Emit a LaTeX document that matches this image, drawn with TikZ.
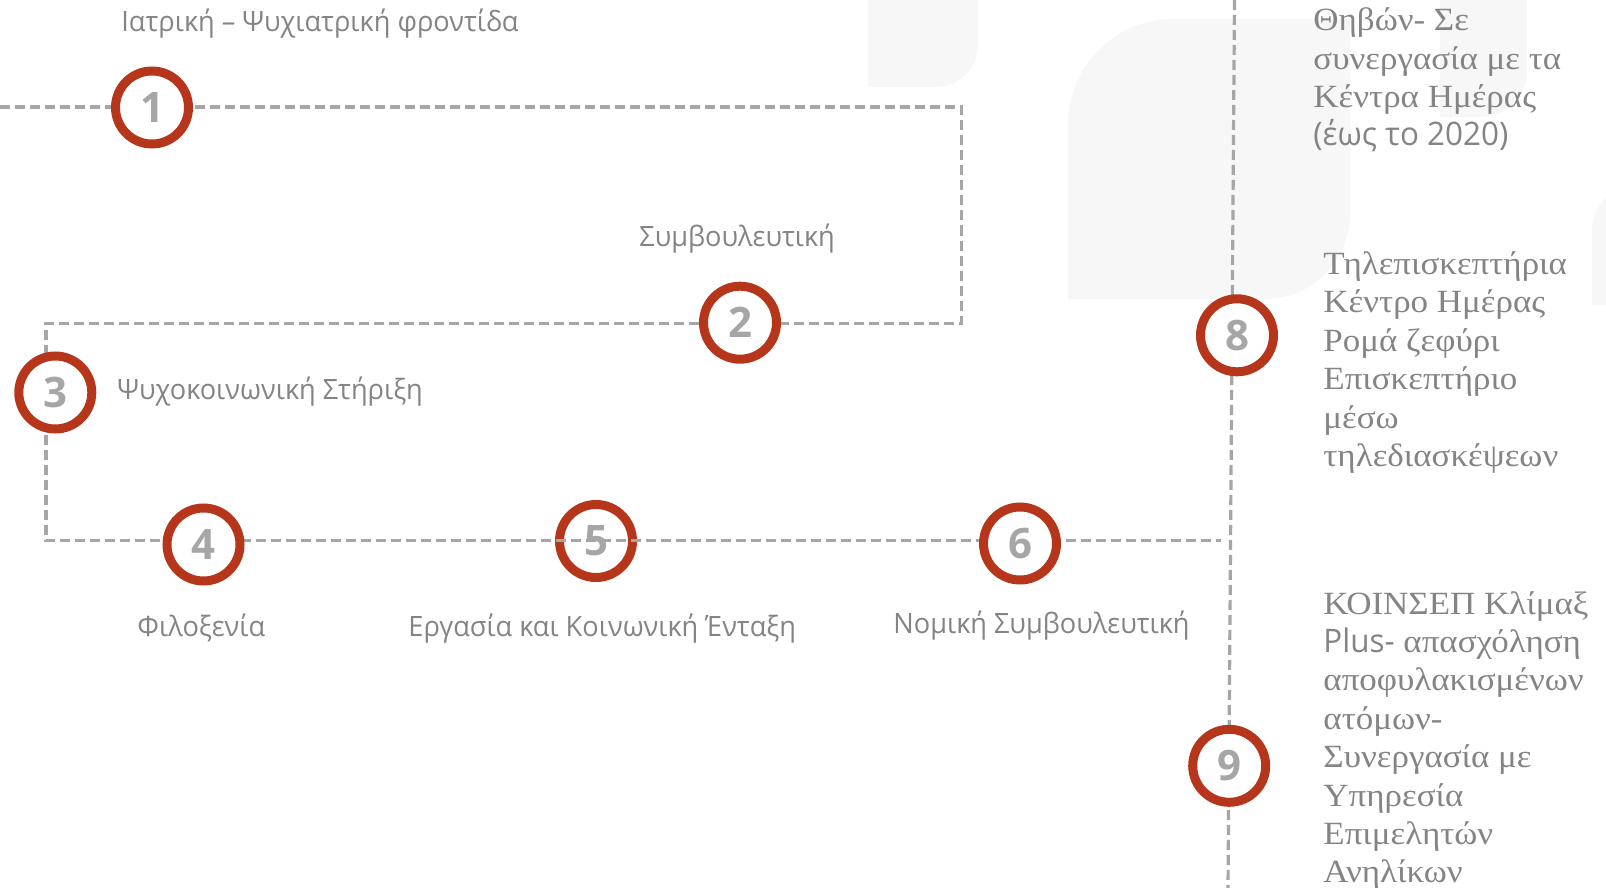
\documentclass[tikz,border=0pt]{standalone}
\usepackage{fontspec}
\setmainfont{Liberation Serif}[FakeStretch=1.08]
\newfontfamily\labelfont{Open Sans}[FakeStretch=0.97]
\newfontfamily\digitfont{Open Sans}
\definecolor{ringred}{HTML}{B5361A}
\definecolor{linegray}{HTML}{A6A6A6}
\definecolor{textgray}{HTML}{848484}
\definecolor{shapegray}{HTML}{F7F7F7}

\tikzset{
  ring/.style={circle, draw=ringred, line width=4.5pt, fill=white,
    minimum size=36.5pt, inner sep=0pt, text=linegray,
    font=\digitfont\bfseries\fontsize{21}{21}\selectfont},
  link/.style={draw=linegray, line width=1.6pt, dash pattern=on 5pt off 2.5pt},
  lbl/.style={anchor=base west, inner sep=0pt, text=textgray,
    font=\labelfont\fontsize{14}{17}\selectfont},
  note/.style={anchor=base west, inner sep=0pt, align=left, text=textgray,
    font=\fontsize{16.2}{19.2}\selectfont},
  bgshape/.style={fill=shapegray}
}

\begin{document}
\begin{tikzpicture}[x=0.5pt, y=-0.5pt]
  \useasboundingbox (0,0) rectangle (1606,888);

  % faint marks behind
  \fill[bgshape] (868,0) -- (978,0) -- (978,45) arc[start angle=0, end angle=90, radius=42] -- (868,87) -- cycle;
  \fill[bgshape] (1068,299) -- (1068,124) arc[start angle=180, end angle=270, radius=105]
    -- (1350,19) -- (1350,214) arc[start angle=0, end angle=90, radius=85] -- cycle;
  \fill[bgshape] (1440,0) -- (1527,0) -- (1527,72) arc[start angle=0, end angle=90, radius=45] -- (1440,117) -- cycle;
  \fill[bgshape] (1592,305) -- (1592,232) arc[start angle=180, end angle=270, radius=50] -- (1660,182) -- (1660,305) -- cycle;

  % path points
  \coordinate (start) at (0,107);
  \coordinate (bend1) at (961.5,107);
  \coordinate (bend2) at (961.5,323.3);
  \coordinate (bend3) at (46,323.3);
  \coordinate (bend4) at (46,540.5);
  \coordinate (stop) at (1221,540.5);
  \coordinate (vtop) at (1234.5,0);
  \coordinate (vbot) at (1228,888);

  % step 5 sits under the line
  \node[ring, fill=none] (c5) at (596,541) {5};

  \draw[link] (start) -- (bend1) -- (bend2) -- (bend3) -- (bend4) -- (stop);
  \draw[link] (vtop) -- (vbot);

  % steps
  \node[ring] (c1) at (152,107.5) {1};
  \node[ring] (c2) at (740,322.7) {2};
  \node[ring] (c3) at (55.3,392.5) {3};
  \node[ring] (c4) at (203.5,544.5) {4};
  \node[ring] (c6) at (1020,543.5) {6};
  \node[ring] (c8) at (1237,335.3) {8};
  \node[ring] (c9) at (1229.2,765.8) {9};

  % labels
  \node[lbl] (l1) at (121,32) {Ιατρική – Ψυχιατρική φροντίδα};
  \node[lbl] (l2) at (639,246.7) {Συμβουλευτική};
  \node[lbl] (l3) at (117,399.3) {Ψυχοκοινωνική Στήριξη};
  \node[lbl] (l4) at (137,636) {Φιλοξενία};
  \node[lbl] (l5) at (408,636) {Εργασία και Κοινωνική Ένταξη};
  \node[lbl] (l6) at (893,633) {Νομική Συμβουλευτική};

  % right column (anchored at the last line)
  \node[note] (n7) at (1313,145.9) {Θηβών- Σε\\συνεργασία με τα\\Κέντρα Ημέρας\\{\labelfont(έως το 2020)}};
  \node[note] (n8) at (1323,466.5) {Τηλεπισκεπτήρια\\Κέντρο Ημέρας\\Ρομά ζεφύρι\\Επισκεπτήριο\\μέσω\\τηλεδιασκέψεων};
  \node[note] (n9) at (1323,882.8) {ΚΟΙΝΣΕΠ Κλίμαξ\\{\labelfont Plus-} απασχόληση\\αποφυλακισμένων\\ατόμων-\\Συνεργασία με\\Υπηρεσία\\Επιμελητών\\Ανηλίκων};
\end{tikzpicture}
\end{document}
